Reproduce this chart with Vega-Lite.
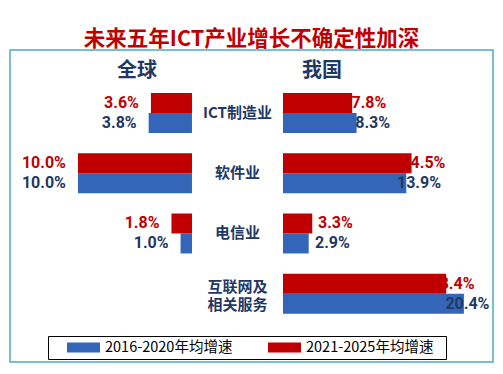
{
  "$schema": "https://vega.github.io/schema/vega-lite/v6.json",
  "width": 483,
  "height": 312,
  "autosize": {"type": "none"},
  "padding": {"left": 10, "top": 50, "right": 10, "bottom": 12},
  "title": {
    "text": "未来五年ICT产业增长不确定性加深",
    "color": "#C00000",
    "font": "Noto Sans CJK SC",
    "fontSize": 21.5,
    "fontWeight": "bold",
    "anchor": "middle",
    "baseline": "bottom",
    "offset": 5,
    "dy": 27
  },
  "config": {
    "view": {"stroke": "#4BACC6", "strokeWidth": 1.5},
    "font": "Noto Sans CJK SC",
    "axis": {"grid": false}
  },
  "data": {
    "values": [
      {"region": "全球", "category": "ICT制造业", "period": "2016-2020年均增速", "value": 0.038},
      {"region": "全球", "category": "ICT制造业", "period": "2021-2025年均增速", "value": 0.036},
      {"region": "全球", "category": "软件业", "period": "2016-2020年均增速", "value": 0.100},
      {"region": "全球", "category": "软件业", "period": "2021-2025年均增速", "value": 0.100},
      {"region": "全球", "category": "电信业", "period": "2016-2020年均增速", "value": 0.010},
      {"region": "全球", "category": "电信业", "period": "2021-2025年均增速", "value": 0.018},
      {"region": "我国", "category": "ICT制造业", "period": "2016-2020年均增速", "value": 0.083},
      {"region": "我国", "category": "ICT制造业", "period": "2021-2025年均增速", "value": 0.078},
      {"region": "我国", "category": "软件业", "period": "2016-2020年均增速", "value": 0.139},
      {"region": "我国", "category": "软件业", "period": "2021-2025年均增速", "value": 0.145},
      {"region": "我国", "category": "电信业", "period": "2016-2020年均增速", "value": 0.029},
      {"region": "我国", "category": "电信业", "period": "2021-2025年均增速", "value": 0.033},
      {"region": "我国", "category": "互联网及相关服务", "period": "2016-2020年均增速", "value": 0.204},
      {"region": "我国", "category": "互联网及相关服务", "period": "2021-2025年均增速", "value": 0.184}
    ]
  },
  "encoding": {
    "y": {
      "field": "category",
      "type": "nominal",
      "sort": ["ICT制造业", "软件业", "电信业", "互联网及相关服务"],
      "scale": {"domain": ["ICT制造业", "软件业", "电信业", "互联网及相关服务"], "paddingInner": 0.337, "paddingOuter": 0.757, "align": 0.471},
      "axis": {
        "title": null,
        "orient": "left",
        "offset": -227,
        "domain": false,
        "ticks": false,
        "labelPadding": 0,
        "labelAlign": "center",
        "labelBaseline": "middle",
        "labelFontSize": 15,
        "labelFontWeight": "bold",
        "labelColor": "#1F3864",
        "labelLineHeight": 18,
        "labelOverlap": false,
        "labelOffset": {"condition": {"test": "datum.label == '互联网及相关服务'", "value": -7}, "value": 0},
        "labelExpr": "datum.label == '互联网及相关服务' ? ['互联网及', '相关服务'] : datum.label"
      }
    },
    "yOffset": {
      "field": "period",
      "type": "nominal",
      "sort": ["2021-2025年均增速", "2016-2020年均增速"],
      "scale": {"domain": ["2021-2025年均增速", "2016-2020年均增速"], "paddingInner": 0, "paddingOuter": 0}
    }
  },
  "layer": [
    {
      "transform": [{"filter": "datum.region === '全球'"}],
      "encoding": {
        "x": {
          "field": "value",
          "type": "quantitative",
          "scale": {"domain": [-0.264, 0.1596], "reverse": true, "nice": false, "zero": false},
          "axis": {
            "orient": "top",
            "labels": false,
            "ticks": false,
            "domain": false,
            "grid": false,
            "title": "全球",
            "titleX": 126.5,
            "titleY": 20,
            "titleAlign": "center",
            "titleBaseline": "middle",
            "titleFontSize": 20,
            "titleFontWeight": "bold",
            "titleColor": "#1F3864"
          }
        }
      },
      "layer": [
        {
          "mark": {"type": "bar"},
          "encoding": {
            "color": {
              "field": "period",
              "type": "nominal",
              "scale": {"domain": ["2016-2020年均增速", "2021-2025年均增速"], "range": ["#3366B8", "#C00000"]},
              "legend": {
                "title": " ",
                "titleOrient": "right",
                "titlePadding": 9,
                "titleFontSize": 14,
                "orient": "none",
                "legendX": 38,
                "legendY": 286,
                "direction": "horizontal",
                "columns": 2,
                "columnPadding": 20,
                "padding": 4,
                "clipHeight": 15,
                "strokeColor": "#000000",
                "fillColor": "#FFFFFF",
                "symbolType": "M-1,-0.3H1V0.3H-1Z",
                "symbolSize": 1089,
                "symbolStrokeWidth": 0,
                "symbolOpacity": 1,
                "symbolOffset": 15,
                "labelOffset": 5,
                "labelFontSize": 14.5,
                "labelFont": "Noto Sans CJK SC",
                "labelColor": "#000000",
                "labelLimit": 300
              }
            }
          }
        },
        {
          "mark": {"type": "text", "align": "right", "baseline": "middle", "dx": -12, "font": "Roboto", "fontSize": 16, "fontWeight": "bold"},
          "encoding": {
            "text": {"field": "value", "type": "quantitative", "format": ".1%"},
            "fill": {
              "field": "period",
              "type": "nominal",
              "scale": {"domain": ["2016-2020年均增速", "2021-2025年均增速"], "range": ["#1F3864", "#C00000"]},
              "legend": null
            }
          }
        }
      ]
    },
    {
      "transform": [{"filter": "datum.region === '我国'"}],
      "mark": {"type": "bar"},
      "encoding": {
        "x": {
          "field": "value",
          "type": "quantitative",
          "scale": {"domain": [-0.3078, 0.2368], "nice": false, "zero": false},
          "axis": {
            "orient": "top",
            "labels": false,
            "ticks": false,
            "domain": false,
            "grid": false,
            "title": "我国",
            "titleX": 311.5,
            "titleY": 20,
            "titleAlign": "center",
            "titleBaseline": "middle",
            "titleFontSize": 20,
            "titleFontWeight": "bold",
            "titleColor": "#1F3864"
          }
        },
        "color": {"field": "period", "type": "nominal"}
      }
    },
    {
      "transform": [{"filter": "datum.region === '我国'"}],
      "mark": {"type": "text", "align": "left", "baseline": "middle", "font": "Roboto", "fontSize": 16, "fontWeight": "bold"},
      "encoding": {
        "x": {
          "field": "value",
          "type": "quantitative",
          "scale": {"domain": [-0.3804, 0.2679], "nice": false, "zero": false},
          "axis": null
        },
        "text": {"field": "value", "type": "quantitative", "format": ".1%"},
        "fill": {"field": "period", "type": "nominal"}
      }
    }
  ],
  "resolve": {"scale": {"x": "independent"}, "axis": {"x": "independent"}}
}
